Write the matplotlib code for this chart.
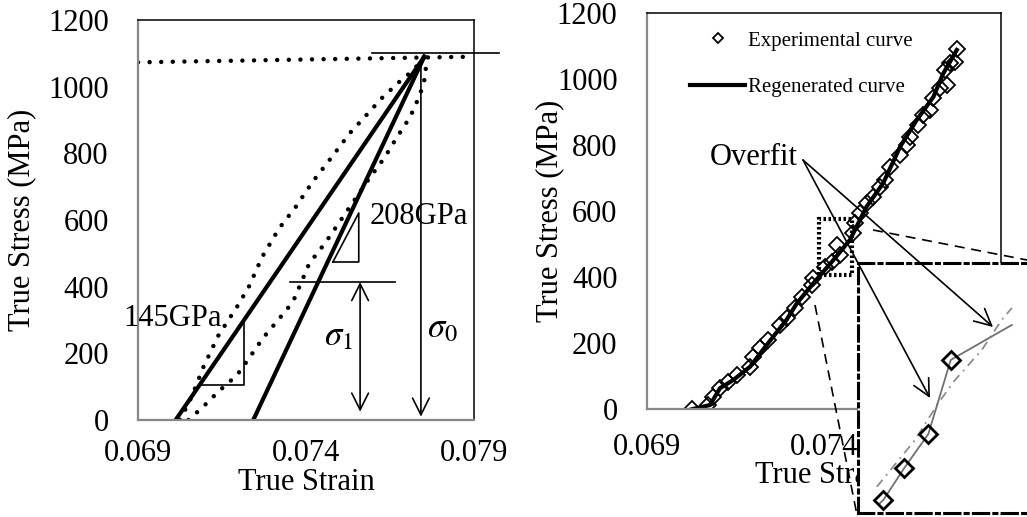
import matplotlib
matplotlib.use("Agg")
import matplotlib.pyplot as plt
from matplotlib.patches import FancyArrowPatch, Rectangle
from matplotlib.lines import Line2D

plt.rcParams['font.family'] = ['Liberation Serif', 'DejaVu Serif']
plt.rcParams['mathtext.fontset'] = 'stix'

# ---- left panel data (unloading / reloading loop) ----
plateau_x = [0.0690, 0.0790]
plateau_y = [1073, 1090]

upper_x = [0.07025, 0.07060, 0.07095, 0.07140, 0.07195, 0.07230, 0.07270, 0.07320,
           0.07370, 0.07420, 0.07470, 0.07530, 0.07580, 0.07625, 0.07675, 0.07720, 0.07752]
upper_y = [0, 70, 160, 255, 340, 400, 490, 575, 640, 715, 780, 860, 915, 965, 1012, 1050, 1090]

lower_x = [0.07050, 0.07090, 0.07138, 0.07195, 0.07233, 0.07272, 0.07317, 0.07361,
           0.07410, 0.07457, 0.07510, 0.07585, 0.07635, 0.07671, 0.07710, 0.07739, 0.07758, 0.07752]
lower_y = [0, 36, 84, 135, 189, 246, 300, 354, 470, 531, 609, 720, 789, 849, 909, 975, 1040, 1090]

line145_x = [0.07012, 0.07752]
line145_y = [0, 1090]
line208_x = [0.07243, 0.07752]
line208_y = [0, 1090]

tri145_x = [0.07085, 0.07216, 0.07216]
tri145_y = [105, 105, 290]
tri208_x = [0.07480, 0.07557, 0.07557, 0.07480]
tri208_y = [474, 474, 621, 474]

cap_x = [0.07596, 0.07974]
cap_y = [1100, 1100]
sig1_line_x = [0.07352, 0.07665]
sig1_line_y = [414, 414]

# ---- right panel data ----
exp_x = [0.070271, 0.070740, 0.070881, 0.071071, 0.071305, 0.071542, 0.071918, 0.072011,
         0.072201, 0.072435, 0.072766, 0.072955, 0.073189, 0.073379, 0.073661, 0.073706,
         0.074037, 0.074226, 0.074367, 0.074460, 0.074836, 0.074884, 0.075025, 0.075215,
         0.075401, 0.075590, 0.075731, 0.075873, 0.076155, 0.076345, 0.076438, 0.076672,
         0.076814, 0.077003, 0.077096, 0.077285, 0.077475, 0.077427, 0.077568, 0.077709,
         0.077757]
exp_y = [0, 13, 38, 64, 84, 104, 129, 160, 185, 210, 255, 276, 306, 341, 377, 397,
         432, 447, 498, 468, 533, 564, 594, 624, 644, 675, 695, 735, 771, 801, 826, 862,
         892, 907, 942, 973, 983, 1028, 1048, 1053, 1091]

reg_x = [0.07027, 0.07079, 0.07107, 0.07145, 0.07192, 0.07239, 0.07295, 0.07324, 0.07371,
         0.07427, 0.07474, 0.07521, 0.07568, 0.07616, 0.07663, 0.07710, 0.07738, 0.07776]
reg_y = [0, 13, 64, 89, 129, 195, 271, 321, 382, 452, 513, 614, 685, 796, 877, 947, 1018, 1089]

# zoomed inset
ins_exp_x = [0.073981, 0.073993, 0.074069, 0.074158, 0.074240, 0.074464]
ins_exp_y = [407.2, 409.4, 432.2, 456.9, 510.2, 535.4]
ins_reg_x = [0.073969, 0.074109, 0.074194, 0.074256, 0.074354, 0.074427, 0.074464]
ins_reg_y = [418.9, 452.6, 479.0, 495.8, 517.4, 539.0, 547.6]

W, H = 1027, 517
fig = plt.figure(figsize=(W / 100, H / 100), dpi=100)


def fp(x, y):
    return (x / W, 1 - y / H)


def style_axes(ax, xlabels, xpad):
    for s in ('left', 'bottom'):
        ax.spines[s].set_color('#888888')
        ax.spines[s].set_linewidth(1.6)
    for s in ('top', 'right'):
        ax.spines[s].set_color('black')
        ax.spines[s].set_linewidth(1.1)
    ax.set_xlim(0.069, 0.079)
    ax.set_ylim(0, 1200)
    ax.set_yticks(range(0, 1201, 200))
    ax.set_xticks([0.069, 0.074, 0.079])
    ax.set_xticklabels(xlabels)
    ax.tick_params(axis='y', length=0, pad=21, labelsize=22)
    ax.tick_params(axis='x', length=0, pad=xpad, labelsize=22)


dotted = dict(color='black', lw=3.2, linestyle=(0, (0.01, 2.6)), dash_capstyle='round')

# ================= left panel =================
ax1 = fig.add_axes([138 / W, 1 - 420 / H, 336 / W, 400 / H])
style_axes(ax1, ['0.069', '0.074', '0.079'], 14)
ax1.plot(plateau_x, plateau_y, **dotted)
ax1.plot(upper_x, upper_y, **dotted)
ax1.plot(lower_x, lower_y, **dotted)
ax1.plot(line145_x, line145_y, color='black', lw=3.0)
ax1.plot(line208_x, line208_y, color='black', lw=3.0)
ax1.plot(tri145_x, tri145_y, color='black', lw=1.2)
ax1.plot(tri208_x, tri208_y, color='black', lw=1.2)
ax1.plot(cap_x, cap_y, color='black', lw=1.2, clip_on=False)
ax1.plot(sig1_line_x, sig1_line_y, color='black', lw=1.2)
ax1.annotate('', xy=(0.07742, 10), xytext=(0.07742, 1075),
             arrowprops=dict(arrowstyle='->,head_length=0.6,head_width=0.3',
                             lw=1.2, color='black', mutation_scale=20,
                             shrinkA=0, shrinkB=0))
ax1.annotate('', xy=(0.07561, 25), xytext=(0.07561, 414),
             arrowprops=dict(arrowstyle='<->,head_length=0.6,head_width=0.3',
                             lw=1.2, color='black', mutation_scale=20,
                             shrinkA=0, shrinkB=0))
ax1.text(0.07150, 306, '145GPa', fontsize=22, ha='right', va='center')
ax1.text(0.07590, 609, '208GPa', fontsize=22, ha='left', va='center')
ax1.text(0.07497, 250, r'$\sigma_1$', fontsize=25, ha='center', va='center')
ax1.text(0.07805, 275, r'$\sigma_0$', fontsize=25, ha='center', va='center')
ax1.set_xlabel('True Strain', fontsize=22)
ax1.xaxis.label.set_va('baseline')
ax1.xaxis.set_label_coords(0.5, -70 / 400)
ax1.set_ylabel('True Stress (MPa)', fontsize=22)
ax1.yaxis.label.set_va('center')
ax1.yaxis.set_label_coords((22 - 138) / 336, 0.5)

# ================= right panel =================
ax2 = fig.add_axes([646.7 / W, 1 - 409.3 / H, 354 / W, 396 / H])
style_axes(ax2, ['0.069', '0.074', ''], 17)
h_exp, = ax2.plot(exp_x, exp_y, linestyle='none', marker='D', ms=7.8, mfc='none',
                  mec='black', mew=1.3, label='Experimental curve')
h_reg, = ax2.plot(reg_x, reg_y, color='black', lw=3.0, label='Regenerated curve')
ax2.add_patch(Rectangle((0.073867, 407), 0.074800 - 0.073867, 577 - 407,
                        fill=False, ec='black', lw=3.0, linestyle=(0, (0.6, 0.6))))
ax2.text(0.07079, 764, 'Overfit', fontsize=22, ha='left', va='center')
ax2.set_xlabel('True Strain', fontsize=22)
ax2.xaxis.label.set_va('baseline')
ax2.xaxis.set_label_coords(0.5, -(483 - 409.3) / 396)
ax2.set_ylabel('True Stress (MPa)', fontsize=22)
ax2.yaxis.label.set_va('center')
ax2.yaxis.set_label_coords((550 - 646.7) / 354, 0.5)
leg = ax2.legend(handles=[h_exp, h_reg], loc='upper left', frameon=False,
                 bbox_to_anchor=fp(690, 31), bbox_transform=fig.transFigure,
                 fontsize=15, borderpad=0, borderaxespad=0, handlelength=2.65,
                 handletextpad=0.15, labelspacing=1.3, markerscale=0.6)

# ================= zoomed inset =================
axi = fig.add_axes([858 / W, 1 - 513 / H, 300 / W, 250 / H])
axi.set_xlim(0.0739, 0.0750)
axi.set_ylim(400, 580)
axi.set_xticks([])
axi.set_yticks([])
for s in axi.spines.values():
    s.set_linestyle((0, (5, 1.7, 1, 1.7)))
    s.set_linewidth(2.2)
    s.set_color('black')
axi.plot(ins_reg_x, ins_reg_y, color='#8c8c8c', lw=1.3, linestyle=(0, (5, 3, 1, 3)))
axi.plot(ins_exp_x, ins_exp_y, color='#707070', lw=1.3, marker='D', ms=9,
         mfc='none', mec='black', mew=2.0, markevery=[1, 2, 3, 4])

# ================= callouts on top =================
for tip in [(930, 398), (993, 327)]:
    fig.add_artist(FancyArrowPatch(fp(803, 160), fp(*tip), transform=fig.transFigure,
                                   arrowstyle='->,head_length=0.6,head_width=0.3',
                                   mutation_scale=20, lw=1.2, color='black',
                                   shrinkA=0, shrinkB=0))
dash = dict(color='black', lw=1.2, linestyle=(0, (6, 4)), transform=fig.transFigure)
fig.add_artist(Line2D([873 / W, 1027 / W], [1 - 230 / H, 1 - 260 / H], **dash))
fig.add_artist(Line2D([815 / W, 857 / W], [1 - 305 / H, 1 - 515 / H], **dash))

fig.savefig('out.png', dpi=100)
